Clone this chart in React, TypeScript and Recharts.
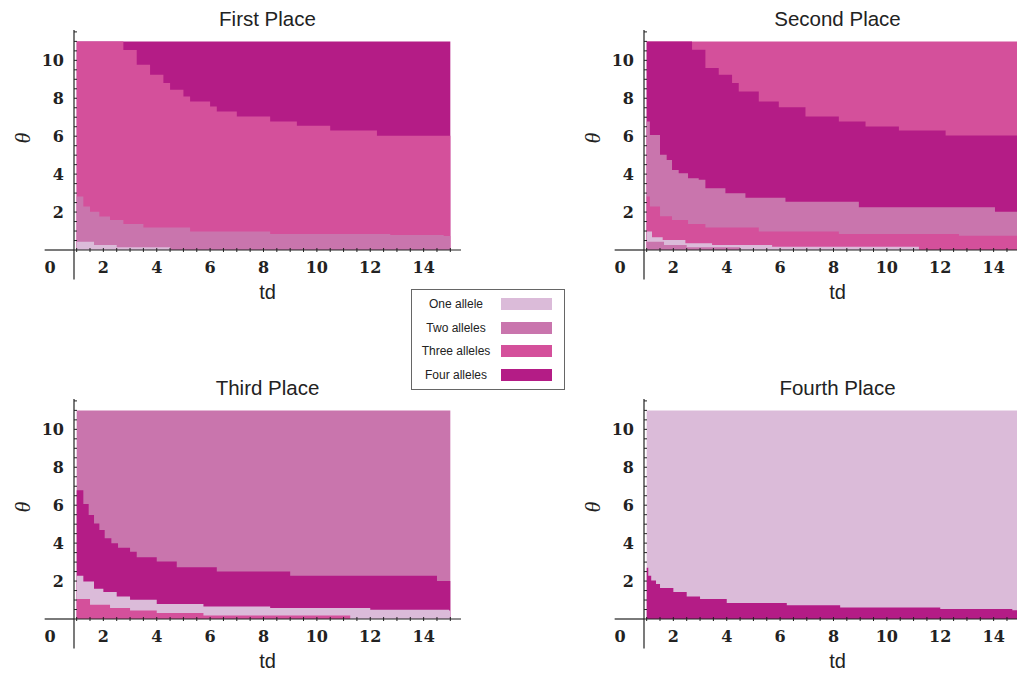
import React from 'react';
import { ComposedChart, Area, XAxis, YAxis, ReferenceLine, ReferenceDot } from 'recharts';

// ---------- legend / layers ----------
const LAYER_NAMES = ['One allele', 'Two alleles', 'Three alleles', 'Four alleles'];
const LAYER_COLORS = ['#dbbbd9', '#c975ad', '#d4509b', '#b41c86'];
const TITLES = ['First Place', 'Second Place', 'Third Place', 'Fourth Place'];

// ---------- axes ----------
const X_TICKS = [1, 1.5, 2, 2.5, 3, 3.5, 4, 4.5, 5, 5.5, 6, 6.5, 7, 7.5, 8, 8.5, 9, 9.5, 10, 10.5, 11, 11.5, 12, 12.5, 13, 13.5, 14, 14.5, 15];
const X_LABELS = [0, 2, 4, 6, 8, 10, 12, 14];
const Y_TICKS = [0.5, 1, 1.5, 2, 2.5, 3, 3.5, 4, 4.5, 5, 5.5, 6, 6.5, 7, 7.5, 8, 8.5, 9, 9.5, 10, 10.5, 11, 11.5];
const Y_LABELS = [2, 4, 6, 8, 10];
const X_DOMAIN: [number, number] = [0.9, 15.4];
const Y_DOMAIN: [number, number] = [0, 11.6];
const AXIS_X = 0.9;

// ---------- region boundaries: [td, theta] at each step ----------
const FULL = [[1, 11], [15, 11]];

// First place
const firstThreeTop = [[1, 11], [2.75, 10.55], [3.25, 9.77], [3.75, 9.24], [4.25, 8.8], [4.5, 8.45], [5, 8.1], [5.25, 7.83], [6, 7.57], [6.25, 7.3], [7, 7.04], [8.25, 6.78], [9.25, 6.55], [10.5, 6.3], [12.25, 6.03], [15, 6.03]];
const firstTwoTop = [[1, 2.82], [1.25, 2.29], [1.5, 2.02], [1.85, 1.76], [2.25, 1.58], [2.75, 1.37], [3.5, 1.18], [5.25, 0.97], [8.25, 0.84], [12.75, 0.79], [14.75, 0.74], [15, 0.74]];
const firstOneTop = [[1, 0.44], [1.65, 0.26], [2.5, 0.14], [4.5, 0]];

// Second place
const secondFourTop = [[1, 11], [2.7, 10.56], [3.2, 9.6], [3.7, 9.24], [4.2, 8.8], [4.45, 8.36], [5.2, 7.83], [5.95, 7.53], [6.95, 7.04], [8.2, 6.78], [9.2, 6.51], [10.45, 6.3], [12.2, 6.04], [15, 6.04]];
const secondTwoTop = [[1, 6.78], [1.12, 6.07], [1.5, 5.02], [1.75, 4.75], [1.95, 4.22], [2.2, 4.05], [2.55, 3.78], [2.95, 3.7], [3.2, 3.26], [3.95, 2.99], [4.7, 2.76], [6.2, 2.55], [8.95, 2.25], [14.05, 2.02], [15, 2.02]];
const secondThreeTop = [[1, 2.82], [1.12, 2.29], [1.5, 1.78], [1.95, 1.58], [2.55, 1.37], [3.2, 1.18], [5.2, 0.97], [8.2, 0.84], [12.7, 0.75], [15, 0.75]];
const secondOneTop = [[1, 0.97], [1.2, 0.67], [1.6, 0.53], [2.45, 0.35], [3.45, 0.26], [5.7, 0.17], [11.2, 0], [15, 0]];
const secondTwoStripTop = [[1, 0.44], [1.65, 0.26], [2.5, 0.14], [4.5, 0]];

// Third place
const thirdFourTop = [[1, 6.79], [1.25, 6.06], [1.45, 5.48], [1.65, 5.04], [1.85, 4.69], [2.05, 4.26], [2.3, 3.99], [2.55, 3.76], [3, 3.55], [3.25, 3.26], [4, 3.03], [4.75, 2.73], [6.25, 2.5], [9, 2.28], [14.5, 2.01], [15, 2.01]];
const thirdOneTop = [[1, 2.28], [1.25, 1.98], [1.65, 1.59], [2, 1.42], [2.5, 1.19], [3, 1.01], [4, 0.79], [5.75, 0.66], [8.25, 0.58], [12, 0.49], [14.95, 0.45], [15, 0.45]];
const thirdThreeTop = [[1, 1.05], [1.5, 0.75], [2.25, 0.58], [3, 0.45], [4, 0.32], [5.75, 0.19], [11.25, 0], [15, 0]];

// Fourth place
const fourthFourTop = [[1, 2.7], [1.06, 2.28], [1.17, 2.03], [1.35, 1.84], [1.5, 1.63], [2, 1.42], [2.5, 1.19], [3, 1.05], [4, 0.84], [6.25, 0.72], [8.25, 0.61], [12, 0.53], [14.7, 0.46], [15, 0.46]];

// layer index: 0 One, 1 Two, 2 Three, 3 Four (painted in order)
const PANELS = [
  { title: TITLES[0], left: 0, top: 0, overlays: [[3, FULL], [2, firstThreeTop], [1, firstTwoTop], [0, firstOneTop]] },
  { title: TITLES[1], left: 570, top: 0, overlays: [[2, FULL], [3, secondFourTop], [1, secondTwoTop], [2, secondThreeTop], [0, secondOneTop], [1, secondTwoStripTop]] },
  { title: TITLES[2], left: 0, top: 369, overlays: [[1, FULL], [3, thirdFourTop], [0, thirdOneTop], [2, thirdThreeTop]] },
  { title: TITLES[3], left: 570, top: 369, overlays: [[0, FULL], [3, fourthFourTop]] },
];

const CHART_W = 470;
const CHART_H = 325;
const X_AXIS_H = 75;
const AXIS_COLOR = '#222';
const TICK_FONT: React.CSSProperties = { fontFamily: '"DejaVu Serif", serif', fontWeight: 700, fontSize: 16, fill: '#222' };

const toRows = (pts: number[][]) => pts.map(([td, theta]) => ({ td, theta }));

const XTick = (props: any) => {
  const { x, y, payload } = props;
  const v = payload.value;
  const labelled = X_LABELS.includes(v);
  return (
    <g>
      <line x1={x} x2={x} y1={y - 2} y2={y + 2} stroke={AXIS_COLOR} strokeWidth={1} />
      {labelled && (
        <text x={x} y={y + 23} textAnchor="middle" style={TICK_FONT}>{v}</text>
      )}
    </g>
  );
};

const YTick = (props: any) => {
  const { x, y, payload } = props;
  const v = payload.value;
  const labelled = Y_LABELS.includes(v);
  return (
    <g>
      <line x1={x} x2={x + 3} y1={y} y2={y} stroke={AXIS_COLOR} strokeWidth={1} />
      {labelled && (
        <text x={x - 10} y={y} dy="0.36em" textAnchor="end" style={TICK_FONT}>{v}</text>
      )}
    </g>
  );
};

const TdLabel = (props: any) => {
  const vb = props.viewBox || { x: 74, y: 250, width: 387 };
  return (
    <text x={vb.x + vb.width / 2} y={vb.y + 49} textAnchor="middle"
      style={{ fontFamily: '"Liberation Sans", Arial, sans-serif', fontSize: 20, fill: '#222' }}>td</text>
  );
};

const ThetaLabel = (props: any) => {
  const vb = props.viewBox || { x: 0, y: 30, width: 74, height: 220 };
  const cx = vb.x + 22;
  const cy = vb.y + vb.height / 2 - 2;
  return (
    <text x={cx} y={cy} dy="0.35em" textAnchor="middle" transform={`rotate(-90, ${cx}, ${cy})`}
      style={{ fontFamily: '"Liberation Serif", serif', fontStyle: 'italic', fontSize: 22, fill: '#222' }}>θ</text>
  );
};

const ZeroLabel = (props: any) => {
  const vb = props.viewBox || { x: 0, y: 0, width: 0, height: 0 };
  return (
    <text x={vb.x + vb.width / 2} y={vb.y + vb.height / 2 + 23} textAnchor="middle" style={TICK_FONT}>{X_LABELS[0]}</text>
  );
};

function Panel({ panel }: { panel: any }) {
  return (
    <div style={{ position: 'absolute', left: panel.left, top: panel.top, width: CHART_W, height: CHART_H }}>
      <ComposedChart width={CHART_W} height={CHART_H} margin={{ top: 30, right: 9, left: 0, bottom: 0 }}>
        <XAxis type="number" dataKey="td" domain={X_DOMAIN} allowDataOverflow ticks={X_TICKS} interval={0}
          tick={<XTick />} tickLine={false} tickSize={0} tickMargin={0} height={X_AXIS_H}
          axisLine={{ stroke: AXIS_COLOR, strokeWidth: 1.2 }} label={<TdLabel />} />
        <YAxis type="number" dataKey="theta" domain={Y_DOMAIN} allowDataOverflow ticks={Y_TICKS} interval={0}
          tick={<YTick />} tickLine={false} tickSize={0} tickMargin={0} width={74}
          axisLine={{ stroke: AXIS_COLOR, strokeWidth: 1.2 }} label={<ThetaLabel />} />
        {panel.overlays.map(([layer, pts]: any, i: number) => (
          <Area key={i} data={toRows(pts)} dataKey="theta" type="stepAfter" fill={LAYER_COLORS[layer]}
            fillOpacity={1} stroke="none" isAnimationActive={false} dot={false} activeDot={false} />
        ))}
        <ReferenceLine segment={[{ x: -0.2, y: 0 }, { x: AXIS_X, y: 0 }]} ifOverflow="visible" stroke={AXIS_COLOR} strokeWidth={1.2} />
        <ReferenceLine segment={[{ x: AXIS_X, y: 0 }, { x: AXIS_X, y: -1.55 }]} ifOverflow="visible" stroke={AXIS_COLOR} strokeWidth={1.2} />
        <ReferenceDot x={0} y={0} r={1} fill="none" stroke="none" ifOverflow="visible" label={<ZeroLabel />} />
      </ComposedChart>
      <div style={{ position: 'absolute', left: 74, width: 387, top: 8, textAlign: 'center', fontFamily: '"Liberation Sans", Arial, sans-serif', fontSize: 20.5, lineHeight: '22px', color: '#222', whiteSpace: 'nowrap' }}>
        {panel.title}
      </div>
    </div>
  );
}

function LegendBox() {
  return (
    <div style={{ position: 'absolute', left: 411, top: 289, width: 152, height: 99, border: '1px solid #666', background: '#fff', fontFamily: '"Liberation Sans", Arial, sans-serif', fontSize: 12, color: '#222' }}>
      {LAYER_NAMES.map((name, i) => (
        <div key={name} style={{ position: 'absolute', left: 0, top: 6 + i * 23.7, width: 152, height: 16 }}>
          <div style={{ position: 'absolute', left: 0, width: 88, top: 0, lineHeight: '16px', textAlign: 'center', whiteSpace: 'nowrap' }}>{name}</div>
          <div style={{ position: 'absolute', left: 89, width: 51, top: 2, height: 12, background: LAYER_COLORS[i] }} />
        </div>
      ))}
    </div>
  );
}

export default function App() {
  return (
    <div style={{ position: 'absolute', left: 0, top: 0, width: 1017, height: 673, overflow: 'hidden', background: '#fff' }}>
      {PANELS.map((p) => <Panel key={p.title} panel={p} />)}
      <LegendBox />
    </div>
  );
}
